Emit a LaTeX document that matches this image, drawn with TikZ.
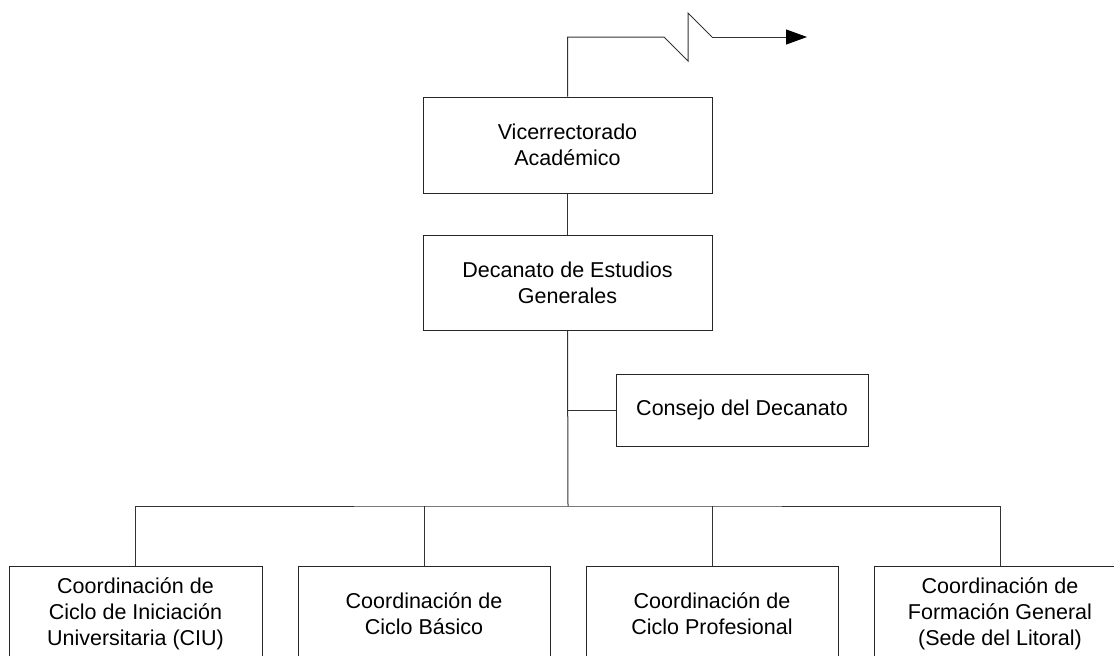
\documentclass[tikz,border=0pt]{standalone}
\usepackage{fontspec}
\setmainfont{Liberation Sans}
\usetikzlibrary{arrows.meta}
\begin{document}
\begin{tikzpicture}[x=1pt,y=-1pt,
  orgbox/.style={draw=black!85,line width=1pt,rectangle,align=center,inner sep=0pt,
    font=\fontsize{21.5}{26}\selectfont},
  conn/.style={draw=black!80,line width=1pt}]
\useasboundingbox (0,0) rectangle (1114,656);
\clip (0,0) rectangle (1114,656);
\node[orgbox,minimum width=289pt,minimum height=96pt] (via) at (567.5,145) {Vicerrectorado\\Académico};
\node[orgbox,minimum width=289pt,minimum height=95pt] (dec) at (567.5,283) {Decanato de Estudios\\Generales};
\node[orgbox,minimum width=252pt,minimum height=72pt] (con) at (742,410) {Consejo del Decanato};
\node[orgbox,minimum width=253pt,minimum height=96pt] (c1) at (135.5,614) {Coordinación de\\Ciclo de Iniciación\\Universitaria (CIU)};
\node[orgbox,minimum width=252pt,minimum height=96pt] (c2) at (424,614) {Coordinación de\\Ciclo Básico};
\node[orgbox,minimum width=252pt,minimum height=96pt] (c3) at (712,614) {Coordinación de\\Ciclo Profesional};
\node[orgbox,minimum width=252pt,minimum height=96pt] (c4) at (1000,614) {Coordinación de\\Formación General\\(Sede del Litoral)};
\coordinate (z1) at (664,37);
\coordinate (z2) at (688,61);
\coordinate (z3) at (688,13);
\coordinate (z4) at (712,37);
\coordinate (tip) at (807,37);
\coordinate (bus) at (568,506);
\draw[conn] (via.north) |- (z1) -- (z2) -- (z3) -- (z4);
\draw[conn,-{Triangle[length=21pt,width=15pt,color=black,fill=black]}] (z4) -- (tip);
\draw[conn] (via.south) -- (dec.north);
\draw[conn] (dec.south) -- (bus);
\draw[conn] (con.west) -- (con.west -| dec.south);
\draw[conn] (c1.north) |- (bus) -| (c4.north);
\draw[conn] (c2.north) -- (c2.north |- bus);
\draw[conn] (c3.north) -- (c3.north |- bus);
\end{tikzpicture}
\end{document}
